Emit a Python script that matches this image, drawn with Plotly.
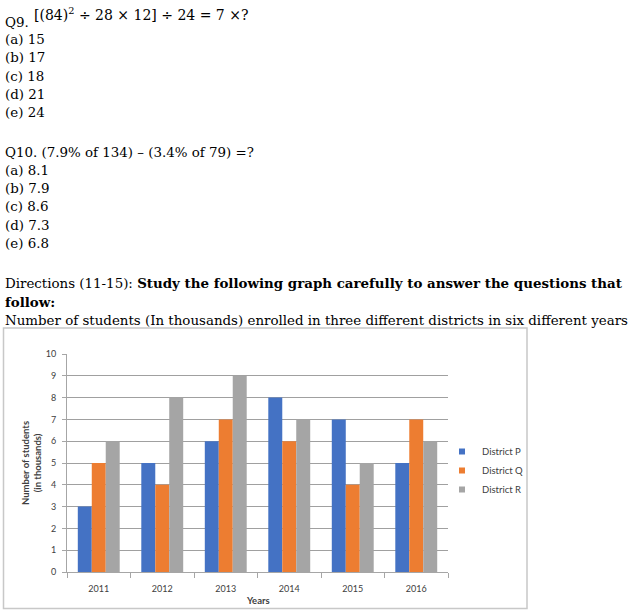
import plotly.graph_objects as go

W, H = 633, 614

years = ["2011", "2012", "2013", "2014", "2015", "2016"]
district_p = [3, 5, 6, 8, 7, 5]
district_q = [5, 4, 7, 6, 4, 7]
district_r = [6, 8, 9, 7, 5, 6]
series_names = ["District P", "District Q", "District R"]
series_colors = ["#4472C4", "#ED7D31", "#A5A5A5"]
y_ticks = list(range(0, 11))

q9_options = ["(a) 15", "(b) 17", "(c) 18", "(d) 21", "(e) 24"]
q10_options = ["(a) 8.1", "(b) 7.9", "(c) 8.6", "(d) 7.3", "(e) 6.8"]


def px(x):
    return x / W


def py(y):
    return 1 - y / H


fig = go.Figure()

for name, vals, col in zip(series_names, [district_p, district_q, district_r], series_colors):
    fig.add_trace(go.Bar(x=years, y=vals, name=name, marker=dict(color=col, line=dict(width=0)),
                         showlegend=False))
    fig.add_trace(go.Scatter(x=[None], y=[None], mode="markers", name=name,
                             marker=dict(symbol="square", size=6, color=col), showlegend=True,
                             legendgroup=name))

serif = "DejaVu Serif"
fs = 13.4
chart_font = "Lato"

ann = []
ann.append(dict(text="Q9.", x=px(3), y=py(22), xanchor="left", yanchor="middle",
                font=dict(family=serif, size=fs, color="black")))
ann.append(dict(text="[(84)<sup>2</sup> ÷ 28 × 12] ÷ 24 = 7 ×?", x=px(32), y=py(14), xanchor="left",
                yanchor="middle", font=dict(family=serif, size=14, color="black")))
for i, t in enumerate(q9_options):
    ann.append(dict(text=t, x=px(3), y=py(39 + 18.5 * i), xanchor="left", yanchor="middle",
                    font=dict(family=serif, size=fs, color="black")))
ann.append(dict(text="Q10. (7.9% of 134) – (3.4% of 79) =?", x=px(3), y=py(152), xanchor="left",
                yanchor="middle", font=dict(family=serif, size=fs, color="black")))
for i, t in enumerate(q10_options):
    ann.append(dict(text=t, x=px(3), y=py(170 + 18.5 * i), xanchor="left", yanchor="middle",
                    font=dict(family=serif, size=fs, color="black")))
ann.append(dict(text="Directions (11-15): <b>Study the following graph carefully to answer the questions that</b>",
                x=px(3), y=py(283), xanchor="left", yanchor="middle",
                font=dict(family=serif, size=fs, color="black")))
ann.append(dict(text="<b>follow:</b>", x=px(3), y=py(302), xanchor="left", yanchor="middle",
                font=dict(family=serif, size=fs, color="black")))
ann.append(dict(text="Number of students (In thousands) enrolled in three different districts in six different years",
                x=px(3), y=py(320), xanchor="left", yanchor="middle",
                font=dict(family=serif, size=fs, color="black")))
ann.append(dict(text="<b>Number of students<br>(in thousands)</b>", x=px(31), y=py(463), textangle=-90,
                xanchor="center", yanchor="middle",
                font=dict(family=chart_font, size=9.5, color="#404040")))
ann.append(dict(text="<b>Years</b>", x=px(258), y=py(600), xanchor="center", yanchor="middle",
                font=dict(family=chart_font, size=9.5, color="#404040")))

for a in ann:
    a.update(xref="paper", yref="paper", showarrow=False)

fig.update_layout(
    template="none",
    width=W, height=H,
    margin=dict(l=0, r=0, t=0, b=0),
    paper_bgcolor="white", plot_bgcolor="white",
    barmode="group", bargap=0.34, bargroupgap=0,
    annotations=ann,
    shapes=[dict(type="rect", xref="paper", yref="paper", x0=px(3.5), x1=px(527), y0=py(608.5), y1=py(328),
                 line=dict(color="#c8c8c8", width=1.5), fillcolor="rgba(0,0,0,0)", layer="below")],
    legend=dict(x=px(442), y=py(437), xanchor="left", yanchor="top", bgcolor="rgba(0,0,0,0)",
                font=dict(family=chart_font, size=9.5, color="#404040"), tracegroupgap=4,
                traceorder="normal"),
    xaxis=dict(domain=[px(67), px(448)], type="category", showgrid=False, showline=True,
               linecolor="#a6a6a6", linewidth=1, ticks="outside", tickson="boundaries",
               ticklen=5, tickcolor="#a6a6a6", ticklabelstandoff=8,
               tickfont=dict(family=chart_font, size=9, color="#404040"), zeroline=False),
    yaxis=dict(domain=[py(572), py(354)], range=[0, 10], tickvals=y_ticks, showgrid=True,
               gridcolor="#a0a0a0", gridwidth=1, showline=True, linecolor="#a6a6a6", linewidth=1,
               ticks="outside", ticklen=4, tickcolor="#a6a6a6", zeroline=False,
               tickfont=dict(family=chart_font, size=9, color="#404040"), ticklabelstandoff=4),
)

fig.write_html("out.html")
